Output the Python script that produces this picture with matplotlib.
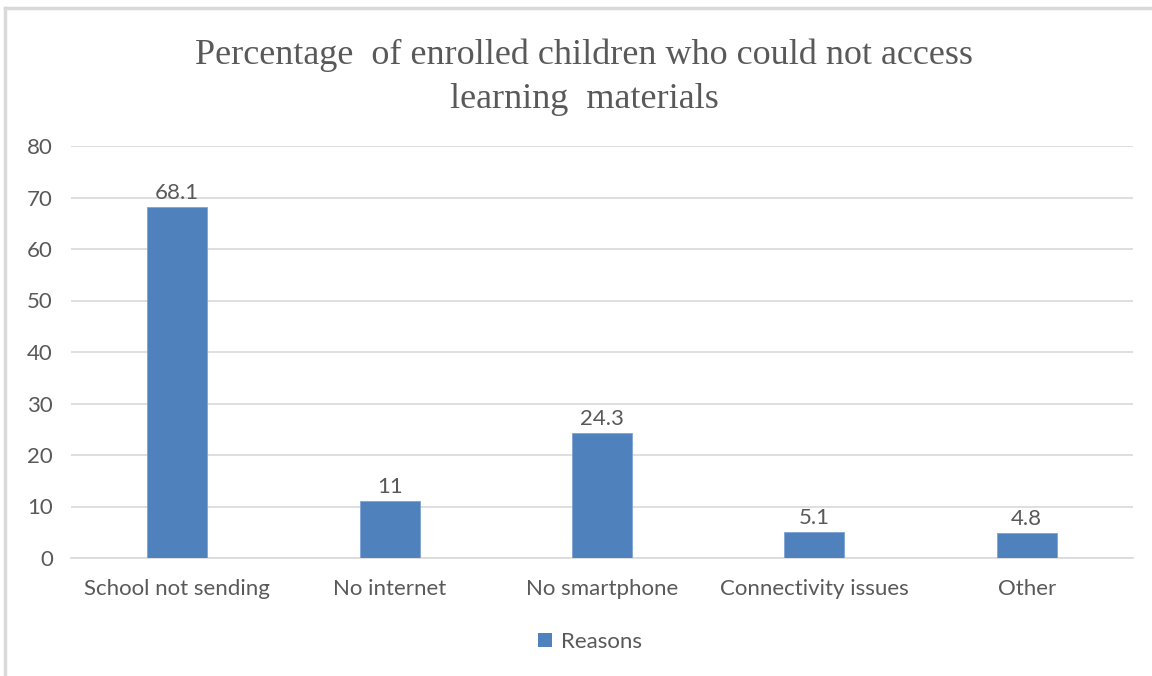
import matplotlib
matplotlib.use("Agg")
import matplotlib.pyplot as plt
from matplotlib.lines import Line2D
from matplotlib.patches import Patch

categories = ["School not sending", "No internet", "No smartphone", "Connectivity issues", "Other"]
values = [68.1, 11, 24.3, 5.1, 4.8]
labels = ["68.1", "11", "24.3", "5.1", "4.8"]
yticks = [0, 10, 20, 30, 40, 50, 60, 70, 80]
series_name = "Reasons"

W, H = 1152, 676
fig = plt.figure(figsize=(W / 100, H / 100), dpi=100)
ax = fig.add_axes([71 / W, 1 - 558 / H, (1133 - 71) / W, (558 - 146) / H])

txt = "#595959"
bar_color = "#4f81bd"
font = "Lato"
fs = 16

x = list(range(len(categories)))
ax.bar(x, values, width=0.283, color=bar_color, edgecolor="#7ea3d4", linewidth=0.6, zorder=3)
for xi, v, lab in zip(x, values, labels):
    ax.annotate(lab, (xi, v), xytext=(0, 3), textcoords="offset points",
                ha="center", va="bottom", fontsize=fs, color=txt, family=font)

ax.set_xlim(-0.5, len(categories) - 0.5)
ax.set_ylim(0, 80)
ax.set_yticks(yticks)
ax.set_yticklabels([str(t) for t in yticks], fontsize=fs, color=txt, family=font)
ax.set_xticks(x)
ax.set_xticklabels(categories, fontsize=fs, color=txt, family=font)
ax.tick_params(axis="y", length=0, pad=13)
ax.tick_params(axis="x", length=0, pad=15)
ax.grid(axis="y", color="#d9d9d9", linewidth=1.2, zorder=0)
for s in ["top", "right", "left"]:
    ax.spines[s].set_visible(False)
ax.spines["bottom"].set_color("#d9d9d9")
ax.spines["bottom"].set_linewidth(1.2)

fig.text(584 / W, 1 - 55 / H, "Percentage  of enrolled children who could not access",
         ha="center", va="center", fontsize=26, color=txt, family="Liberation Serif")
fig.text(584 / W, 1 - 100 / H, "learning  materials",
         ha="center", va="center", fontsize=26, color=txt, family="Liberation Serif")

leg = fig.legend([Patch(facecolor=bar_color)], [series_name], loc="center",
                 bbox_to_anchor=(590 / W, 1 - 642 / H), frameon=False,
                 prop={"family": font, "size": fs}, handlelength=0.6, handleheight=0.6,
                 handletextpad=0.4)
for t in leg.get_texts():
    t.set_color(txt)

fig.add_artist(Line2D([5 / W, 1], [1 - 8 / H, 1 - 8 / H], color="#d9d9d9", linewidth=2.5))
fig.add_artist(Line2D([5 / W, 5 / W], [1 - 8 / H, 0], color="#d9d9d9", linewidth=2.5))

fig.savefig("out.png", dpi=100)
